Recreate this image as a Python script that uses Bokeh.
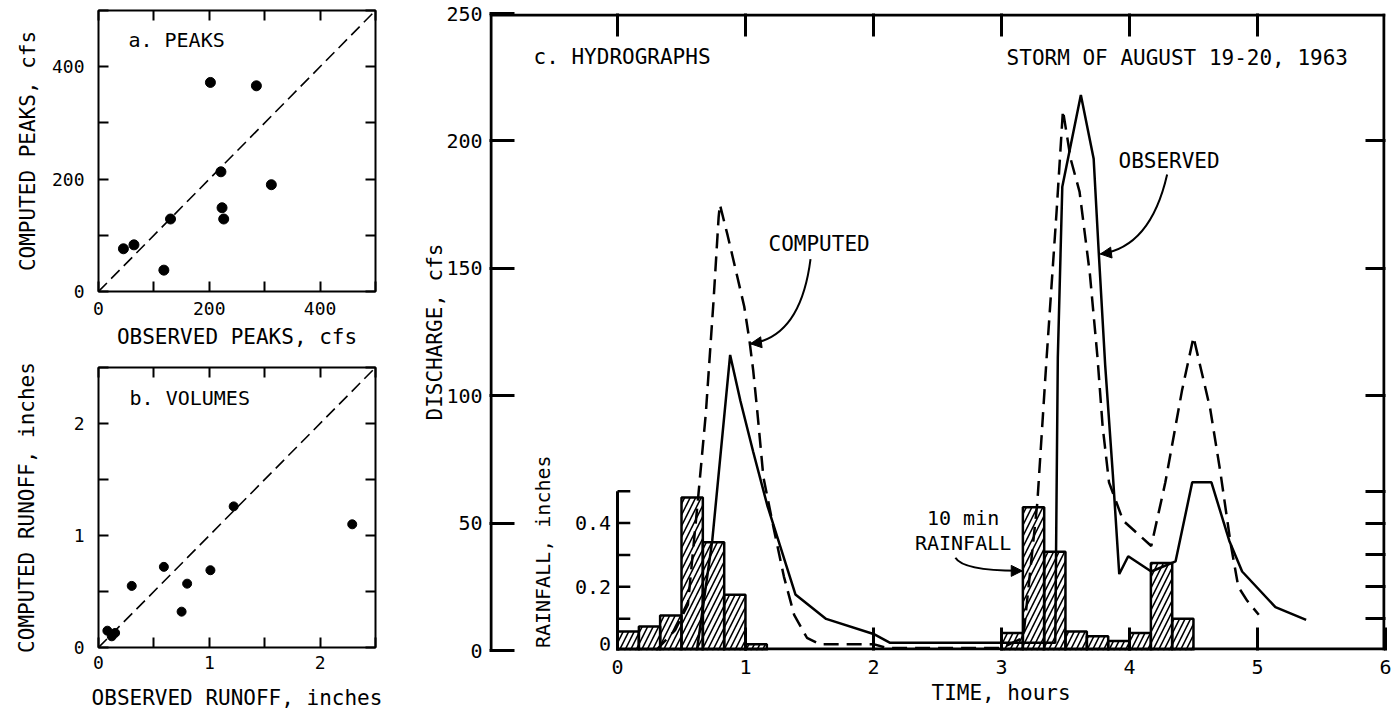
import math
from bokeh.plotting import figure
from bokeh.layouts import row, column
from bokeh.models import (Range1d, LinearAxis, FixedTicker, Arrow, NormalHead, Span, Title)
from bokeh.core.properties import value
from bokeh.embed import file_html
from bokeh.resources import INLINE

FONT = "DejaVu Sans Mono"

# ---------------- a. PEAKS (cfs) ----------------
peaks_observed = [45, 64, 118, 130, 202, 221, 223, 226, 285, 312]
peaks_computed = [76, 83, 38, 129, 372, 213, 149, 129, 366, 190]
peak_major = [0, 200, 400]
peak_minor = [100, 300, 500]
peak_all = [0, 100, 200, 300, 400, 500]
peak_line = [0, 500]

# ---------------- b. VOLUMES (inches) ----------------
runoff_observed = [0.08, 0.15, 0.12, 0.30, 0.59, 0.75, 0.80, 1.01, 1.22, 2.29]
runoff_computed = [0.15, 0.13, 0.10, 0.55, 0.72, 0.32, 0.57, 0.69, 1.26, 1.10]
runoff_major = [0, 1, 2]
runoff_minor = [0.5, 1.5, 2.5]
runoff_all = [0, 0.5, 1, 1.5, 2, 2.5]
runoff_line = [0, 2.5]

# ---------------- c. HYDROGRAPHS ----------------
computed_time = [0.30, 0.45, 0.55, 0.63, 0.69, 0.75, 0.79, 0.80, 0.86, 0.93, 0.99, 1.03,
                 1.06, 1.09, 1.14, 1.22, 1.30, 1.38, 1.48, 1.58, 2.00, 2.10, 3.00, 3.17,
                 3.28, 3.35, 3.43, 3.48, 3.54, 3.61, 3.69, 3.75, 3.79, 3.84, 3.95, 4.17,
                 4.28, 4.41, 4.50, 4.63, 4.71, 4.79, 4.85, 4.92, 5.01]
computed_q = [0, 8, 18, 60, 93, 137, 170, 175, 163, 148, 135, 122,
              110, 95, 68, 48, 29, 14, 5, 2.5, 2.5, 1, 1, 5,
              58, 113, 172, 212, 193, 180, 148, 115, 88, 66, 51, 41,
              66, 102, 123, 95, 70, 42, 25, 19.5, 14]
observed_time = [0.62, 0.74, 0.88, 0.96, 1.06, 1.17, 1.39, 1.63, 2.00, 2.13, 3.00, 3.42,
                 3.43, 3.44, 3.475, 3.62, 3.72, 3.76, 3.81, 3.87, 3.92, 3.99, 4.17, 4.36,
                 4.49, 4.64, 4.78, 4.88, 5.14, 5.38]
observed_q = [0, 43, 116, 98, 78, 57, 22, 12.4, 6.5, 3, 3, 3,
              60, 115, 182, 218, 193, 156, 112, 69, 30, 37, 31, 35,
              66, 66, 43, 31, 17, 12]
rain_start = [0.0, 0.167, 0.333, 0.5, 0.667, 0.833, 1.0,
              3.0, 3.167, 3.333, 3.5, 3.667, 3.833, 4.0, 4.167, 4.333]
rain_depth = [0.06, 0.075, 0.11, 0.48, 0.34, 0.175, 0.02,
              0.055, 0.45, 0.31, 0.06, 0.045, 0.03, 0.055, 0.275, 0.10]
rain_interval = 10 / 60.0  # 10-minute rainfall

time_ticks = [0, 1, 2, 3, 4, 5, 6]
top_time_ticks = [0, 1, 2, 3, 4, 5]
discharge_ticks = [0, 50, 100, 150, 200, 250]
right_discharge_ticks = [50, 100, 150, 200]
rain_mid_labels_at = [0.2, 0.4]
rain_mid_label_text = ["0.2", "0.4"]
rain_tick_marks = [0.1, 0.2, 0.3, 0.4, 0.5]
T_MIN, T_MAX = -1, 6
RAIN_TOP = 2.0
Q_TOP = 250

# panel c geometry (pixels)
C_W, C_H = 1008, 712
C_LEFT, C_RIGHT, C_TOP, C_BOTTOM = 104, 8, 13, 62
FRAME_W = C_W - C_LEFT - C_RIGHT
FRAME_H = C_H - C_TOP - C_BOTTOM
SPINE = 3


def style_common(p):
    p.xgrid.visible = False
    p.ygrid.visible = False
    p.background_fill_color = "white"
    p.border_fill_color = "white"


def style_axis(ax, tick_len, lw, font_size, show_line=False, label_size="21px"):
    ax.major_tick_in = tick_len
    ax.major_tick_out = 0
    ax.minor_tick_in = tick_len
    ax.minor_tick_out = 0
    ax.major_tick_line_width = lw
    ax.minor_tick_line_width = lw
    ax.major_tick_line_color = "black"
    ax.minor_tick_line_color = "black"
    ax.major_label_text_font = FONT
    ax.major_label_text_font_size = font_size
    ax.major_label_text_color = "black"
    ax.axis_label_text_font = FONT
    ax.axis_label_text_font_size = label_size
    ax.axis_label_text_font_style = "normal"
    ax.axis_label_text_color = "black"
    if show_line:
        ax.axis_line_width = lw
        ax.axis_line_color = "black"
    else:
        ax.axis_line_color = None


def tick_only_axis(positions, tick_len, lw):
    # axis that draws only (minor) tick marks, no labels
    ax = LinearAxis(ticker=FixedTicker(ticks=[], minor_ticks=positions), major_label_standoff=0)
    style_axis(ax, tick_len, lw, "12px")
    return ax


# ================= panel a =================
pa = figure(width=385, height=352, x_range=Range1d(0, 500), y_range=Range1d(0, 500),
            min_border_left=95, min_border_right=10, min_border_top=10, min_border_bottom=61,
            output_backend="svg", toolbar_location=None,
            x_axis_label="OBSERVED PEAKS, cfs", y_axis_label="COMPUTED PEAKS, cfs")
style_common(pa)
pa.outline_line_color = "black"
pa.outline_line_width = 2
for ax in (pa.xaxis[0], pa.yaxis[0]):
    ax.ticker = FixedTicker(ticks=peak_major, minor_ticks=peak_minor)
    style_axis(ax, 10, 2, "18px")
pa.xaxis[0].major_label_standoff = 10
pa.xaxis[0].axis_label_standoff = 7
pa.yaxis[0].major_label_standoff = 14
pa.yaxis[0].axis_label_standoff = 9
pa.add_layout(tick_only_axis(peak_all, 10, 2), "above")
pa.add_layout(tick_only_axis(peak_all, 10, 2), "right")
pa.line(peak_line, peak_line, line_color="black", line_width=1.6, line_dash="12 6")
pa.scatter(peaks_observed, peaks_computed, size=10, color="black")
pa.text(x=[54], y=[447], text=["a. PEAKS"], text_font=value(FONT), text_font_size="20px",
        text_align="left", text_baseline="middle", text_color="black")

# ================= panel b =================
pb = figure(width=385, height=360, x_range=Range1d(0, 2.5), y_range=Range1d(0, 2.5),
            min_border_left=98, min_border_right=5, min_border_top=15, min_border_bottom=64,
            output_backend="svg", toolbar_location=None,
            x_axis_label="OBSERVED RUNOFF, inches", y_axis_label="COMPUTED RUNOFF, inches")
style_common(pb)
pb.outline_line_color = "black"
pb.outline_line_width = 2
for ax in (pb.xaxis[0], pb.yaxis[0]):
    ax.ticker = FixedTicker(ticks=runoff_major, minor_ticks=runoff_minor)
    style_axis(ax, 10, 2, "18px")
pb.xaxis[0].major_label_standoff = 8
pb.xaxis[0].axis_label_standoff = 14
pb.yaxis[0].major_label_standoff = 14
pb.yaxis[0].axis_label_standoff = 32
pb.add_layout(tick_only_axis(runoff_all, 10, 2), "above")
pb.add_layout(tick_only_axis(runoff_all, 10, 2), "right")
pb.line(runoff_line, runoff_line, line_color="black", line_width=1.6, line_dash="12 6")
pb.scatter(runoff_observed, runoff_computed, size=9, color="black")
pb.text(x=[0.28], y=[2.23], text=["b. VOLUMES"], text_font=value(FONT), text_font_size="20px",
        text_align="left", text_baseline="middle", text_color="black")

# ================= panel c =================
pc = figure(width=C_W, height=C_H, x_range=Range1d(T_MIN, T_MAX), y_range=Range1d(0, Q_TOP),
            min_border_left=C_LEFT, min_border_right=C_RIGHT, min_border_top=C_TOP,
            min_border_bottom=C_BOTTOM, output_backend="svg", toolbar_location=None,
            y_axis_label="DISCHARGE, cfs")
style_common(pc)
pc.outline_line_color = None
pc.extra_y_ranges = {"rain": Range1d(0, RAIN_TOP)}

xa = pc.xaxis[0]
xa.ticker = FixedTicker(ticks=time_ticks)
xa.bounds = (time_ticks[0], time_ticks[-1])
style_axis(xa, 23, 3, "20px")
xa.major_label_standoff = 9

ya = pc.yaxis[0]
ya.ticker = FixedTicker(ticks=discharge_ticks)
style_axis(ya, 25, 3, "20px")
ya.major_label_standoff = 7
ya.axis_label_standoff = -4

pc.add_layout(tick_only_axis(top_time_ticks, 23, 3), "above")
rain_scale = Q_TOP / RAIN_TOP
pc.add_layout(tick_only_axis(right_discharge_ticks + [r * rain_scale for r in rain_tick_marks],
                             20, 3), "right")

# time axis title, centred under the 0-6 hour axis
time_title = Title(text="TIME, hours", align="left", standoff=5, text_font=FONT,
                   text_font_size="21px", text_font_style="normal", text_color="black")
time_title.offset = FRAME_W * ((time_ticks[0] + time_ticks[-1]) / 2 - T_MIN) / (T_MAX - T_MIN) - 70
pc.add_layout(time_title, "below")

# frame lines: left, right, top full; bottom only along the time axis 0..6
px_t = (T_MAX - T_MIN) / FRAME_W
px_q = Q_TOP / FRAME_H
half = SPINE / 2
pc.add_layout(Span(location=T_MIN + half * px_t, dimension="height", line_color="black", line_width=SPINE))
pc.add_layout(Span(location=T_MAX - half * px_t, dimension="height", line_color="black", line_width=SPINE))
pc.add_layout(Span(location=Q_TOP - half * px_q, dimension="width", line_color="black", line_width=SPINE))
pc.segment(x0=[time_ticks[0]], y0=[half * px_q], x1=[time_ticks[-1]], y1=[half * px_q],
           line_color="black", line_width=SPINE)

# rainfall bars (hatched)
pc.quad(left=rain_start, right=[s + rain_interval for s in rain_start], bottom=0, top=rain_depth,
        y_range_name="rain", fill_color="white", fill_alpha=0, line_color="black", line_width=2.5,
        hatch_pattern="/", hatch_color="black", hatch_weight=1.6, hatch_scale=11)

# rainfall axis inside the plot at time 0
pc.segment(x0=[0], y0=[0], x1=[0], y1=[max(rain_tick_marks)], y_range_name="rain",
           line_color="black", line_width=3)
pc.segment(x0=[0] * len(rain_tick_marks), y0=rain_tick_marks, x1=[0.1] * len(rain_tick_marks),
           y1=rain_tick_marks, y_range_name="rain", line_color="black", line_width=2.5)
pc.text(x=[-0.05] * len(rain_mid_labels_at), y=rain_mid_labels_at, text=rain_mid_label_text,
        y_range_name="rain", text_font=value(FONT), text_font_size="20px",
        text_align="right", text_baseline="middle", text_color="black")
pc.text(x=[-0.05], y=[0], text=["0"], y_range_name="rain", text_font=value(FONT),
        text_font_size="20px", text_align="right", text_baseline="bottom", text_color="black")
pc.text(x=[-0.58], y=[0.31], text=["RAINFALL, inches"], y_range_name="rain", angle=math.pi / 2,
        text_font=value(FONT), text_font_size="20px", text_align="center",
        text_baseline="middle", text_color="black")

# hydrographs
pc.line(computed_time, computed_q, line_color="black", line_width=2.5, line_dash="15 8")
pc.line(observed_time, observed_q, line_color="black", line_width=2.5)

# annotations
pc.text(x=[-0.656], y=[233], text=["c. HYDROGRAPHS"], text_font=value(FONT),
        text_font_size="21px", text_align="left", text_baseline="middle", text_color="black")
pc.text(x=[3.04], y=[232.5], text=["STORM OF AUGUST 19-20, 1963"], text_font=value(FONT),
        text_font_size="21px", text_align="left", text_baseline="middle", text_color="black")
pc.text(x=[1.18], y=[159.5], text=["COMPUTED"], text_font=value(FONT),
        text_font_size="21px", text_align="left", text_baseline="middle", text_color="black")
pc.text(x=[3.914], y=[192], text=["OBSERVED"], text_font=value(FONT),
        text_font_size="21px", text_align="left", text_baseline="middle", text_color="black")
pc.text(x=[2.70, 2.70], y=[52, 42.3], text=["10 min", "RAINFALL"], text_font=value(FONT),
        text_font_size="20px", text_align="center", text_baseline="middle", text_color="black")

# curved leader arrows: start, end, control point (hours / cfs)
arrow_x0 = [1.508, 4.294, 2.64]
arrow_y0 = [153.6, 186.8, 36.4]
arrow_x1 = [1.039, 3.773, 3.162]
arrow_y1 = [120.4, 155.6, 31.25]
arrow_cx = [1.43, 4.164, 2.70]
arrow_cy = [123.0, 158.2, 31.25]
pc.quadratic(x0=arrow_x0, y0=arrow_y0, x1=arrow_x1, y1=arrow_y1, cx=arrow_cx, cy=arrow_cy,
             line_color="black", line_width=2)
for x1, y1, cx, cy in zip(arrow_x1, arrow_y1, arrow_cx, arrow_cy):
    xs = x1 - 0.12 * (x1 - cx)
    ys = y1 - 0.12 * (y1 - cy)
    pc.add_layout(Arrow(end=NormalHead(size=11, fill_color="black", line_color="black", line_width=1),
                        x_start=xs, y_start=ys, x_end=x1, y_end=y1,
                        line_color="black", line_width=2))

layout = row(column(pa, pb), pc)
open("out.html", "w").write(file_html(layout, INLINE))
